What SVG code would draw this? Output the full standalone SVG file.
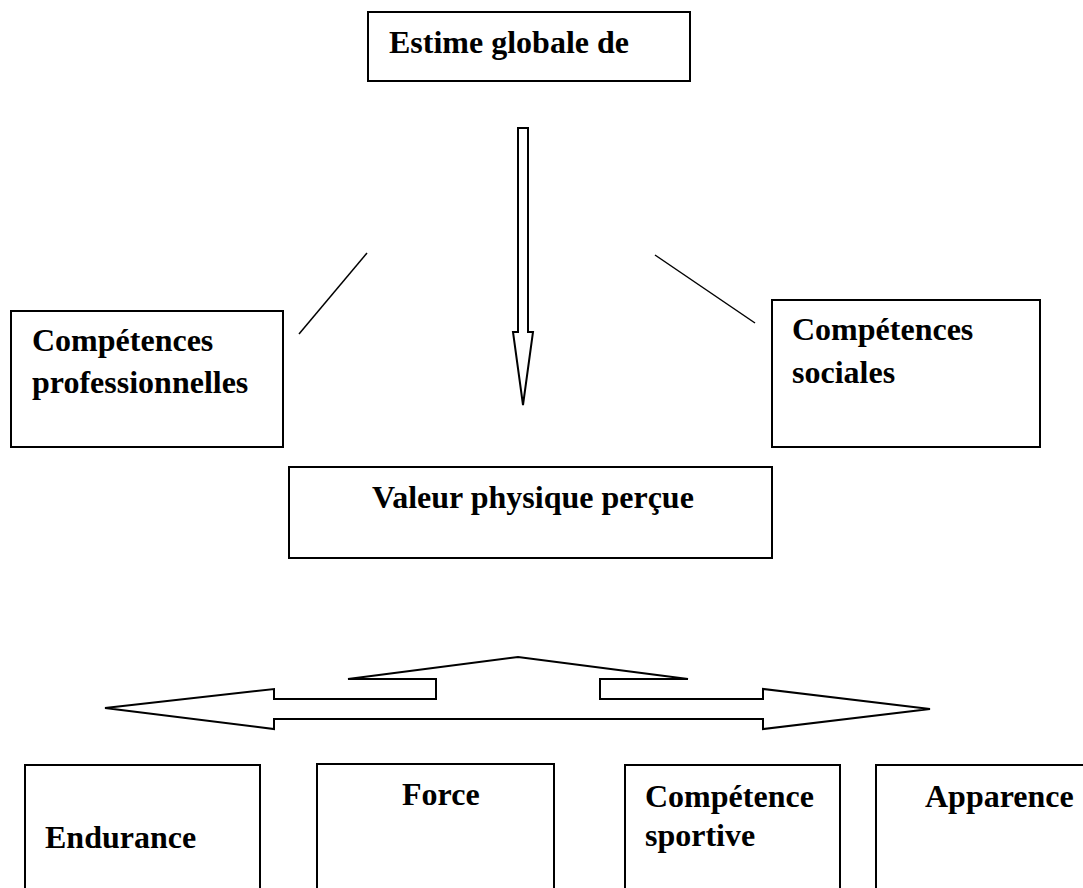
<svg xmlns="http://www.w3.org/2000/svg" width="1083" height="888" viewBox="0 0 1083 888">
<style>
.box{fill:#fff;stroke:#000;stroke-width:2}
.lbl{font-family:"Liberation Serif","Times New Roman",serif;font-weight:bold;font-size:32px;fill:#000}
.conn{fill:none;stroke:#000;stroke-width:1.5}
.arr{fill:#fff;stroke:#000;stroke-width:2;stroke-linejoin:miter}
</style>
<rect width="1083" height="888" fill="#fff"/>
<g id="connectors">
<polygon class="arr" points="518,128 528,128 528,332 533,332 523,405 513,332 518,332"/>
<line class="conn" x1="367" y1="253" x2="299" y2="334"/>
<line class="conn" x1="655" y1="255" x2="755" y2="323"/>
<polygon class="arr" points="105,708 274,689 274,699 436,699 436,679 348,679 518,657 688,679 600,679 600,699 763,699 763,689 930,709 763,729 763,719 274,719 274,729"/>
</g>
<g id="estime">
<rect class="box" x="368" y="12" width="322" height="69"/>
<text class="lbl" x="389" y="53">Estime globale de</text>
</g>
<g id="comp-pro">
<rect class="box" x="11" y="311" width="272" height="136"/>
<text class="lbl" x="32" y="351">Compétences</text>
<text class="lbl" x="32" y="393">professionnelles</text>
</g>
<g id="comp-soc">
<rect class="box" x="772" y="300" width="268" height="147"/>
<text class="lbl" x="792" y="340">Compétences</text>
<text class="lbl" x="792" y="383">sociales</text>
</g>
<g id="valeur">
<rect class="box" x="289" y="467" width="483" height="91"/>
<text class="lbl" x="372" y="508">Valeur physique perçue</text>
</g>
<g id="endurance">
<rect class="box" x="25" y="765" width="235" height="150"/>
<text class="lbl" x="45" y="848">Endurance</text>
</g>
<g id="force">
<rect class="box" x="317" y="764" width="237" height="150"/>
<text class="lbl" x="402" y="805">Force</text>
</g>
<g id="competence-sportive">
<rect class="box" x="625" y="765" width="215" height="150"/>
<text class="lbl" x="645" y="807">Compétence</text>
<text class="lbl" x="645" y="846">sportive</text>
</g>
<g id="apparence">
<rect class="box" x="876" y="765" width="230" height="150"/>
<text class="lbl" x="925" y="807">Apparence</text>
</g>
</svg>
